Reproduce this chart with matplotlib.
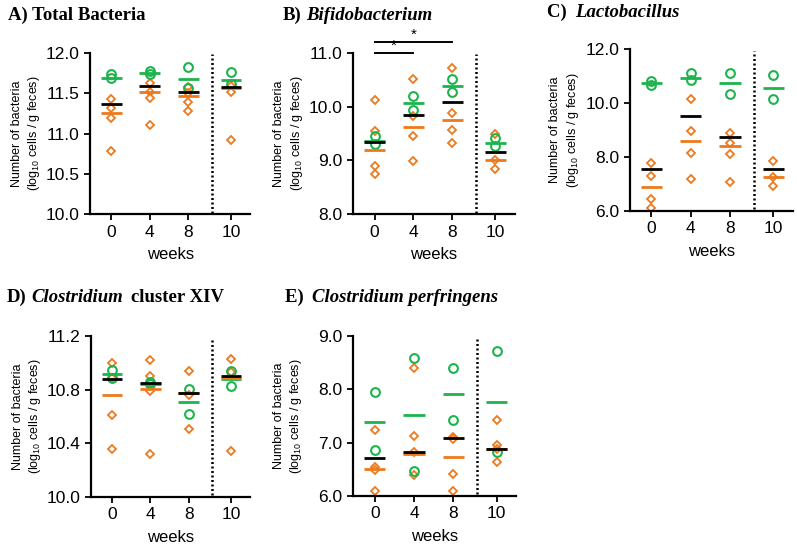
import matplotlib
matplotlib.use("Agg")
import matplotlib.pyplot as plt

plt.rcParams["font.family"] = "Liberation Sans"
plt.rcParams["mathtext.fontset"] = "custom"
plt.rcParams["mathtext.rm"] = "Liberation Sans"

GREEN = "#1db34d"
ORANGE = "#ec7a1c"

weeks = ["0", "4", "8", "10"]
xpos = [0, 1, 2, 3.1]

# A) Total Bacteria
a_circles = [[11.74, 11.69], [11.78, 11.74], [11.82, 11.57], [11.76, 11.61]]
a_diamonds = [[11.43, 11.32, 11.19, 10.78], [11.63, 11.52, 11.44, 11.11],
              [11.58, 11.50, 11.39, 11.28], [11.59, 11.51, 10.92]]
a_green = [11.69, 11.75, 11.68, 11.66]
a_orange = [11.25, 11.52, 11.46, 11.57]
a_black = [11.37, 11.59, 11.52, 11.58]

# B) Bifidobacterium
b_circles = [[9.45, 9.30], [10.20, 9.94], [10.52, 10.27], [9.42, 9.26]]
b_diamonds = [[10.13, 9.54, 8.89, 8.75], [10.52, 9.82, 9.45, 8.98],
              [10.72, 9.89, 9.57, 9.32], [9.50, 9.01, 8.84]]
b_green = [9.37, 10.06, 10.39, 9.32]
b_orange = [9.20, 9.62, 9.75, 9.01]
b_black = [9.35, 9.84, 10.08, 9.15]

# C) Lactobacillus
c_circles = [[10.80, 10.67], [11.11, 10.86], [11.13, 10.33], [11.03, 10.15]]
c_diamonds = [[7.79, 7.30, 6.46, 6.09], [10.14, 8.96, 8.16, 7.18],
              [8.88, 8.50, 8.10, 7.08], [7.85, 7.26, 6.92]]
c_green = [10.74, 10.92, 10.74, 10.55]
c_orange = [6.89, 8.59, 8.40, 7.26]
c_black = [7.54, 9.52, 8.75, 7.57]

# D) Clostridium cluster XIV
d_circles = [[10.95, 10.89], [10.86, 10.84], [10.81, 10.62], [10.94, 10.83]]
d_diamonds = [[11.00, 10.89, 10.61, 10.36], [11.02, 10.90, 10.79, 10.32],
              [10.94, 10.76, 10.51], [11.03, 10.93, 10.34]]
d_green = [10.92, 10.84, 10.71, 10.88]
d_orange = [10.76, 10.81, 10.78, 10.89]
d_black = [10.88, 10.85, 10.78, 10.90]

# E) Clostridium perfringens
e_circles = [[7.95, 6.87], [8.60, 6.46], [8.40, 7.43], [8.72, 6.82]]
e_diamonds = [[7.23, 6.54, 6.48, 6.10], [8.40, 7.12, 6.82, 6.40],
              [7.11, 7.07, 6.41, 6.10], [7.42, 6.95, 6.88, 6.64]]
e_green = [7.39, 7.53, 7.92, 7.76]
e_orange = [6.51, 6.79, 6.74, 6.88]
e_black = [6.71, 6.83, 7.08, 6.88]

TITLE_SIZE = 13.5


def draw_panel(ax, circles, diamonds, green, orange, black, yticks, fmt):
    for x, ys in zip(xpos, diamonds):
        ax.plot([x] * len(ys), ys, "D", ms=4.3, mfc="white", mec=ORANGE,
                mew=1.3, ls="none", zorder=2)
    for x, ys in zip(xpos, circles):
        ax.plot([x] * len(ys), ys, "o", ms=6.3, mfc="none", mec=GREEN,
                mew=1.5, ls="none", zorder=3)
    hw = 0.27
    for vals, color, z in ((green, GREEN, 4), (orange, ORANGE, 4),
                           (black, "black", 5)):
        for x, y in zip(xpos, vals):
            ax.plot([x - hw, x + hw], [y, y], color=color, lw=2.0,
                    solid_capstyle="butt", zorder=z)
    ax.axvline(2.6, ymin=0.01, ymax=0.99, color="black", lw=1.8,
               ls=(0, (0.8, 1.0)), zorder=1)
    ax.set_xlim(-0.55, 3.6)
    ax.set_ylim(yticks[0], yticks[-1])
    ax.set_yticks(yticks)
    ax.set_yticklabels([fmt % t for t in yticks])
    ax.set_xticks(xpos)
    ax.set_xticklabels(weeks)
    for s in ("top", "right"):
        ax.spines[s].set_visible(False)
    for s in ("left", "bottom"):
        ax.spines[s].set_linewidth(1.6)
    ax.tick_params(width=1.3, length=4, labelsize=12.5)
    ax.set_xlabel("weeks", fontsize=12, labelpad=5.5)
    ax.set_ylabel("Number of bacteria\n(log$_{10}$ cells / g feces)",
                  fontsize=9, linespacing=1.3)
    ax.yaxis.set_label_coords(-0.3, 0.5)


def panel_title(fig, ax, x, y, prefix, italic, rest=""):
    t1 = fig.text(x, y, prefix, fontsize=TITLE_SIZE, fontweight="bold",
                  family="Liberation Serif", va="center")
    t2 = ax.annotate(italic, xy=(1, 0), xycoords=t1, xytext=(3, 0),
                     textcoords="offset points", fontsize=TITLE_SIZE,
                     fontweight="bold", fontstyle="italic",
                     family="Liberation Serif", va="bottom",
                     annotation_clip=False)
    if rest:
        ax.annotate(rest, xy=(1, 0), xycoords=t2, xytext=(6, 0),
                    textcoords="offset points", fontsize=TITLE_SIZE,
                    fontweight="bold", family="Liberation Serif",
                    va="bottom", annotation_clip=False)


fig = plt.figure(figsize=(7.97, 5.45), dpi=100)

ax_a = fig.add_axes([0.113, 0.607, 0.201, 0.296])
ax_b = fig.add_axes([0.443, 0.607, 0.203, 0.296])
ax_c = fig.add_axes([0.790, 0.613, 0.205, 0.297])
ax_d = fig.add_axes([0.114, 0.088, 0.200, 0.295])
ax_e = fig.add_axes([0.443, 0.090, 0.205, 0.293])

draw_panel(ax_a, a_circles, a_diamonds, a_green, a_orange, a_black,
           [10.0, 10.5, 11.0, 11.5, 12.0], "%.1f")
draw_panel(ax_b, b_circles, b_diamonds, b_green, b_orange, b_black,
           [8.0, 9.0, 10.0, 11.0], "%.1f")
draw_panel(ax_c, c_circles, c_diamonds, c_green, c_orange, c_black,
           [6.0, 8.0, 10.0, 12.0], "%.1f")
draw_panel(ax_d, d_circles, d_diamonds, d_green, d_orange, d_black,
           [10.0, 10.4, 10.8, 11.2], "%.1f")
draw_panel(ax_e, e_circles, e_diamonds, e_green, e_orange, e_black,
           [6.0, 7.0, 8.0, 9.0], "%.1f")

# significance brackets in panel B
for x0, x1, y in ((xpos[0], xpos[1], 11.0), (xpos[0], xpos[2], 11.2)):
    ax_b.plot([x0, x1], [y, y], color="black", lw=1.4, clip_on=False)
    ax_b.text((x0 + x1) / 2, y + 0.01, "*", ha="center", va="bottom",
              fontsize=11, clip_on=False)

fig.text(0.01, 0.972, "A) Total Bacteria", fontsize=TITLE_SIZE,
         fontweight="bold", family="Liberation Serif", va="center")
panel_title(fig, ax_b, 0.355, 0.972, "B)", "Bifidobacterium")
panel_title(fig, ax_c, 0.686, 0.978, "C) ", "Lactobacillus")
panel_title(fig, ax_d, 0.009, 0.455, "D)", "Clostridium", "cluster XIV")
panel_title(fig, ax_e, 0.357, 0.455, "E) ", "Clostridium perfringens")

fig.savefig("out.png", dpi=100)
